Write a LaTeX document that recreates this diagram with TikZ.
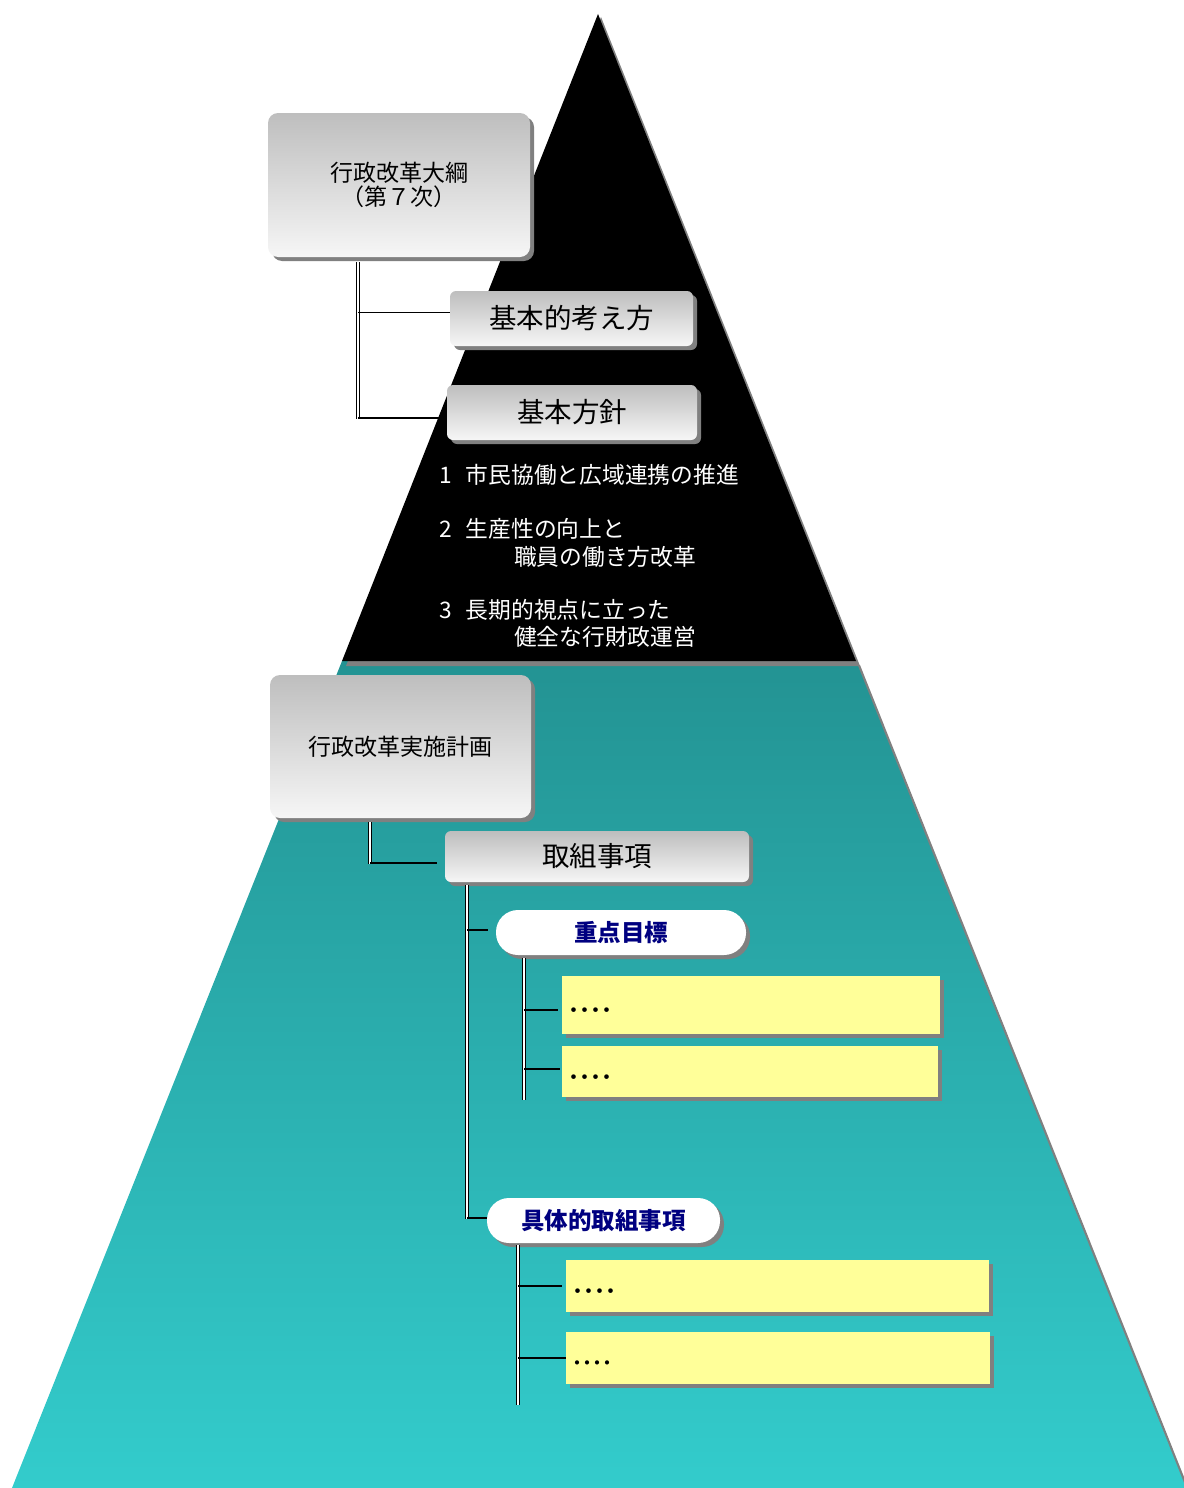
\documentclass[tikz,border=0pt]{standalone}
\usepackage{fontspec}
\newfontfamily\cjk{Noto Sans CJK JP}
\usetikzlibrary{shadows}
\definecolor{tealtop}{HTML}{239393}
\definecolor{tealbot}{HTML}{33CCCC}
\definecolor{navy}{HTML}{000080}
\definecolor{ylw}{HTML}{FFFF99}
\definecolor{shd}{HTML}{808080}
\definecolor{gtop}{HTML}{BEBEBE}
\definecolor{gbot}{HTML}{F6F6F6}
\newcommand{\ydots}[1]{\raisebox{0pt}[#1][0pt]{････}}
\tikzset{
  shdw/.style={drop shadow={shadow xshift=4pt,shadow yshift=-4pt,fill=shd,opacity=1}},
  graybox/.style={shdw, top color=gtop, bottom color=gbot, draw=none, inner sep=0pt, align=center},
  bigbox/.style={graybox, rounded corners=10pt, font=\cjk\fontsize{23}{24}\selectfont},
  midbox/.style={graybox, rounded corners=6pt, font=\cjk\fontsize{27.5}{30}\selectfont},
  pill/.style={shdw, fill=white, draw=none, rounded corners=22pt, inner sep=0pt, text=navy, font=\cjk\bfseries\fontsize{23.5}{26}\selectfont},
  ybox/.style={shdw, fill=ylw, draw=none, inner xsep=6pt, inner ysep=0pt, align=left, font=\cjk\bfseries\fontsize{22}{24}\selectfont},
  listtext/.style={text=white, inner sep=0pt, anchor=base west, font=\cjk\fontsize{22.75}{26}\selectfont},
  trunk/.style={draw=black, double=white, double distance=1.8pt, line width=1.3pt},
  branch/.style={draw=black, line width=1.2pt},
}
\begin{document}
\begin{tikzpicture}[x=1pt,y=-1pt]
\useasboundingbox (0,0) rectangle (1183,1488);
% pyramid
\fill[shd] (347,665) -- (860,665) -- (1190,1492) -- (16,1492) -- cycle;
\shade[top color=tealtop, bottom color=tealbot] (342,661) -- (856,661) -- (1186,1488) -- (12,1488) -- cycle;
\fill[shd] (601,17) -- (860,666) -- (346,666) -- cycle;
\fill[black] (598,14) -- (856,661) -- (342,661) -- cycle;

% upper part
\node[bigbox, minimum width=262pt, minimum height=144pt] (taiko) at (399,185) {行政改革大綱\\（第７次）};
\node[midbox, minimum width=243pt, minimum height=55pt] (kangae) at (571.5,318.5) {基本的考え方};
\node[midbox, minimum width=250pt, minimum height=55pt] (hoshin) at (572,412.5) {基本方針};

\coordinate (a1) at (358,262);
\coordinate (a2) at (358,419);
\coordinate (kw) at ([yshift=6pt]kangae.west);
\coordinate (hw) at ([yshift=-5.5pt]hoshin.west);
\draw[trunk] (a1) -- (a2);
\draw[branch] (a1 |- kw) -- (kw);
\draw[branch] (a1 |- hw) -- (hw);

\node[listtext] (i1) at (439,483) {1\hspace{14pt}市民協働と広域連携の推進};
\node[listtext] (i2a) at (439,537) {2\hspace{14pt}生産性の向上と};
\node[listtext] (i2b) at (514,565) {職員の働き方改革};
\node[listtext] (i3a) at (439,618) {3\hspace{14pt}長期的視点に立った};
\node[listtext] (i3b) at (514,645) {健全な行財政運営};

% lower part
\node[bigbox, minimum width=261pt, minimum height=143pt] (jisshi) at (400.5,746.5) {行政改革実施計画};
\node[midbox, minimum width=304pt, minimum height=51pt] (torikumi) at (597,856.5) {取組事項};

\coordinate (b1) at (370,822);
\coordinate (b2) at (370,864);
\coordinate (tw) at ([yshift=-6.5pt]torikumi.west);
\draw[trunk] (b1) -- (b2);
\draw[branch, shorten >=8pt] (b1 |- tw) -- (tw);

\node[pill, minimum width=250pt, minimum height=45pt] (juten) at (621,932.5) {重点目標};
\node[pill, minimum width=233pt, minimum height=45pt] (gutai) at (603.5,1220.5) {具体的取組事項};

\coordinate (c1) at (467,885);
\coordinate (c2) at (467,1219);
\coordinate (jw) at ([yshift=2.5pt]juten.west);
\coordinate (gw) at ([yshift=2.5pt]gutai.west);
\draw[trunk] (c1) -- (c2);
\draw[branch, shorten >=8pt] (c1 |- jw) -- (jw);
\draw[branch] (c1 |- gw) -- (gw);

\node[ybox, text width=366pt, minimum height=58pt] (y1) at (751,1005) {\ydots{27pt}};
\node[ybox, text width=364pt, minimum height=51pt] (y2) at (750,1071.5) {\ydots{27pt}};
\node[ybox, text width=411pt, minimum height=52pt] (y3) at (777.5,1286) {\ydots{27pt}};
\node[ybox, text width=412pt, minimum height=52pt, font=\cjk\bfseries\fontsize{20}{22}\selectfont] (y4) at (778,1358) {\ydots{25pt}};

\coordinate (d1) at (524,958);
\coordinate (d2) at (524,1100);
\coordinate (y1w) at ([yshift=-5pt]y1.west);
\coordinate (y2w) at ([yshift=2.5pt]y2.west);
\draw[trunk] (d1) -- (d2);
\draw[branch, shorten >=4pt] (d1 |- y1w) -- (y1w);
\draw[branch, shorten >=2pt] (d1 |- y2w) -- (y2w);

\coordinate (e1) at (518,1245);
\coordinate (e2) at (518,1405);
\draw[trunk] (e1) -- (e2);
\draw[branch, shorten >=4pt] (e1 |- y3.west) -- (y3.west);
\draw[branch] (e1 |- y4.west) -- (y4.west);
\end{tikzpicture}
\end{document}
